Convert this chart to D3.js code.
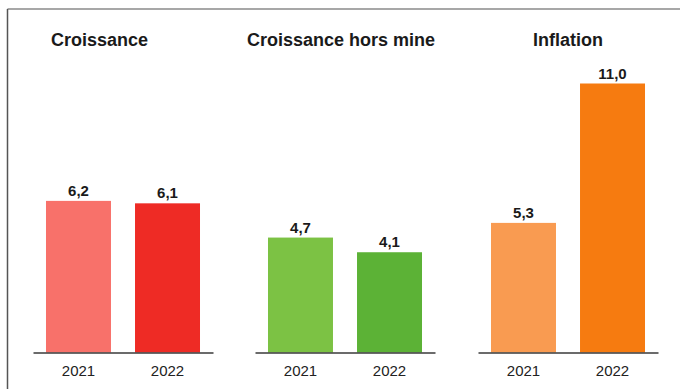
<!DOCTYPE html>
<html>
<head>
<meta charset="utf-8">
<script src="https://cdn.jsdelivr.net/npm/d3@7"></script>
<style>
  html, body { margin: 0; padding: 0; background: #fff; }
  svg { display: block; }
</style>
</head>
<body>
<svg id="chart" width="680" height="389"></svg>
<script>
// ---- data ----
const panelTitles = ["Croissance", "Croissance hors mine", "Inflation"];
const years = ["2021", "2022"];
const croissance = [6.2, 6.1];
const croissanceHorsMine = [4.7, 4.1];
const inflation = [5.3, 11.0];
const valueLabels = [["6,2", "6,1"], ["4,7", "4,1"], ["5,3", "11,0"]];

// ---- styling / layout ----
const seriesValues = [croissance, croissanceHorsMine, inflation];
const colors = [["#F8716A", "#EE2B25"], ["#7CC244", "#5CB236"], ["#F99B51", "#F67B10"]];
const panelX = [[33, 213], [255, 435], [478, 658]];
const titleX = [51, 247, 533];
const baseY = 352.5;

const svg = d3.select("#chart");
svg.append("rect").attr("width", 680).attr("height", 389).attr("fill", "#fff");

// frame (top and left)
svg.append("line").attr("x1", 7.5).attr("x2", 680).attr("y1", 9).attr("y2", 9)
  .attr("stroke", "#8a8a8a").attr("stroke-width", 1.5);
svg.append("line").attr("x1", 7.5).attr("x2", 7.5).attr("y1", 9).attr("y2", 389)
  .attr("stroke", "#555").attr("stroke-width", 1.5);

const y = d3.scaleLinear().domain([0, 11]).range([baseY, baseY - 269]);

seriesValues.forEach((vals, p) => {
  const x = d3.scaleBand().domain(years).range(panelX[p])
    .paddingInner(0.27).paddingOuter(0.146);
  const g = svg.append("g");

  g.append("text").attr("x", titleX[p]).attr("y", 46)
    .attr("font-family", "Liberation Sans, Arial, sans-serif")
    .attr("font-weight", "bold").attr("font-size", 18).attr("fill", "#1a1a1a")
    .text(panelTitles[p]);

  g.selectAll("rect.bar").data(vals).join("rect").attr("class", "bar")
    .attr("x", (d, i) => x(years[i])).attr("width", x.bandwidth())
    .attr("y", d => y(d)).attr("height", d => y(0) - y(d))
    .attr("fill", (d, i) => colors[p][i]);

  g.selectAll("text.val").data(vals).join("text").attr("class", "val")
    .attr("x", (d, i) => x(years[i]) + x.bandwidth() / 2)
    .attr("y", d => y(d) - 5)
    .attr("text-anchor", "middle")
    .attr("font-family", "Liberation Sans, Arial, sans-serif")
    .attr("font-weight", "bold").attr("font-size", 15).attr("fill", "#1a1a1a")
    .text((d, i) => valueLabels[p][i]);

  const axis = d3.axisBottom(x).tickSize(0).tickPadding(13);
  const ag = g.append("g").attr("transform", `translate(0,${baseY})`).call(axis);
  ag.select(".domain").attr("stroke", "#3a3a3a").attr("stroke-width", 1.6);
  ag.selectAll("text")
    .attr("font-family", "Liberation Sans, Arial, sans-serif")
    .attr("font-size", 15).attr("fill", "#222");
});
</script>
</body>
</html>
